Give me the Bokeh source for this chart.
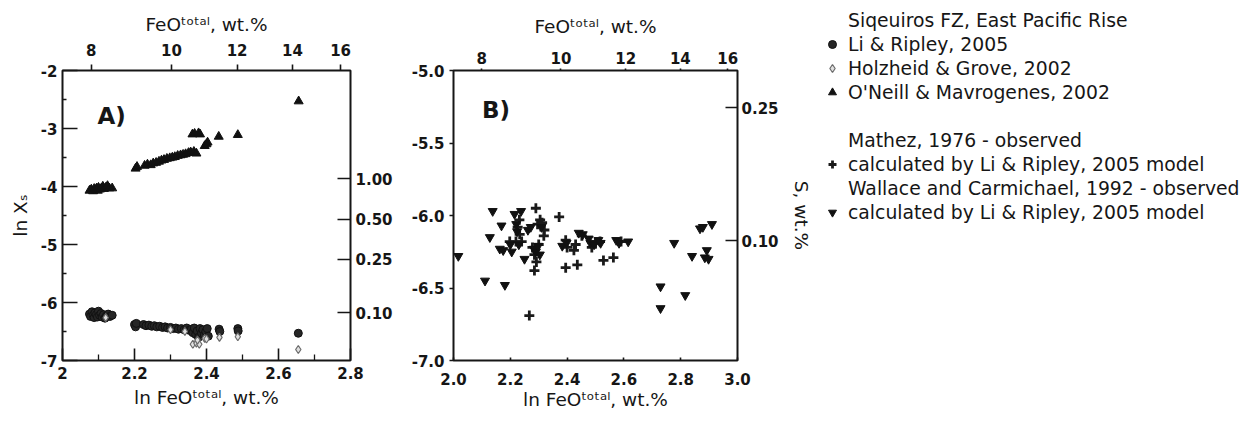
import math
from bokeh.plotting import figure
from bokeh.models import LinearAxis, FixedTicker, Label, Legend, LegendItem, PrintfTickFormatter
from bokeh.layouts import row, column
from bokeh.embed import file_html
from bokeh.resources import INLINE

# ---------------- data ----------------
# Panel A: ln FeO(total) vs ln X_S
a_om_x = [2.075, 2.080, 2.085, 2.088, 2.092, 2.095, 2.098, 2.100, 2.104, 2.108, 2.112, 2.115,
          2.120, 2.125, 2.130, 2.138,
          2.203, 2.207, 2.228, 2.236, 2.245, 2.252, 2.260, 2.268, 2.275, 2.282, 2.290, 2.298,
          2.305, 2.312, 2.320, 2.328, 2.335, 2.342, 2.350, 2.356, 2.365, 2.372, 2.395, 2.400,
          2.403, 2.361, 2.367, 2.378, 2.382, 2.434, 2.487, 2.656]
a_om_y = [-4.07, -4.05, -4.08, -4.04, -4.06, -4.03, -4.07, -4.02, -4.05, -4.03, -4.00, -4.04,
          -4.02, -3.99, -4.03, -4.03,
          -3.69, -3.66, -3.64, -3.62, -3.63, -3.60, -3.59, -3.57, -3.55, -3.54, -3.52, -3.51,
          -3.50, -3.49, -3.47, -3.46, -3.45, -3.44, -3.42, -3.41, -3.40, -3.43, -3.30, -3.27,
          -3.24, -3.10, -3.09, -3.08, -3.10, -3.14, -3.11, -2.53]

a_hg_x = [2.120, 2.300, 2.340, 2.362, 2.372, 2.380, 2.375, 2.395, 2.400, 2.436, 2.487, 2.655]
a_hg_y = [-6.26, -6.47, -6.50, -6.72, -6.70, -6.72, -6.65, -6.62, -6.63, -6.60, -6.59, -6.81]

a_lr_x = [2.075, 2.078, 2.082, 2.085, 2.088, 2.090, 2.094, 2.097, 2.100, 2.103, 2.107, 2.110,
          2.114, 2.118, 2.122, 2.127, 2.132, 2.138,
          2.200, 2.203, 2.205, 2.225, 2.232, 2.240, 2.248, 2.255, 2.262, 2.270, 2.278, 2.285,
          2.292, 2.300, 2.308, 2.315, 2.322, 2.330, 2.338, 2.345, 2.352, 2.358, 2.362, 2.366,
          2.370, 2.374, 2.378, 2.382, 2.386, 2.390, 2.394, 2.398, 2.402, 2.405, 2.435, 2.437,
          2.487, 2.488, 2.655]
a_lr_y = [-6.20, -6.24, -6.16, -6.22, -6.26, -6.18, -6.21, -6.25, -6.15, -6.22, -6.19, -6.25,
          -6.21, -6.27, -6.23, -6.20, -6.24, -6.22,
          -6.38, -6.42, -6.36, -6.38, -6.40, -6.39, -6.41, -6.40, -6.42, -6.41, -6.43, -6.42,
          -6.44, -6.43, -6.45, -6.44, -6.46, -6.45, -6.47, -6.44, -6.48, -6.46, -6.52, -6.44,
          -6.55, -6.49, -6.60, -6.45, -6.53, -6.47, -6.56, -6.50, -6.45, -6.58, -6.46, -6.50,
          -6.45, -6.49, -6.53]

# Panel B: ln FeO(total) vs ln X_S
b_wc_x = [2.017, 2.111, 2.128, 2.138, 2.163, 2.169, 2.175, 2.181, 2.200, 2.205, 2.215, 2.221,
          2.224, 2.230, 2.238, 2.250, 2.262, 2.272, 2.283, 2.290, 2.298, 2.304, 2.310, 2.383,
          2.398, 2.441, 2.455, 2.476, 2.482, 2.495, 2.510, 2.518, 2.573, 2.583, 2.615, 2.729,
          2.729, 2.777, 2.816, 2.840, 2.868, 2.878, 2.885, 2.892, 2.898, 2.910]
b_wc_y = [-6.28, -6.45, -6.15, -5.97, -6.23, -6.07, -6.24, -6.48, -6.20, -6.25, -5.99, -6.06,
          -6.11, -6.20, -5.97, -6.30, -6.10, -6.08, -6.23, -6.25, -6.21, -6.27, -6.08, -6.21,
          -6.19, -6.12, -6.13, -6.16, -6.19, -6.20, -6.17, -6.19, -6.17, -6.19, -6.18, -6.49,
          -6.64, -6.19, -6.55, -6.28, -6.09, -6.08, -6.29, -6.24, -6.30, -6.06]

b_ma_x = [2.267, 2.290, 2.285, 2.292, 2.296, 2.305, 2.312, 2.318, 2.320, 2.372, 2.395, 2.436,
          2.395, 2.400, 2.424, 2.430, 2.487, 2.500, 2.516, 2.528, 2.563, 2.590, 2.452, 2.233,
          2.220, 2.198, 2.240, 2.278, 2.300, 2.285, 2.232, 2.226]
b_ma_y = [-6.69, -5.95, -6.38, -6.32, -6.06, -6.03, -6.05, -6.14, -6.10, -6.01, -6.36, -6.34,
          -6.17, -6.22, -6.24, -6.20, -6.22, -6.19, -6.18, -6.31, -6.29, -6.18, -6.14, -6.13,
          -6.18, -6.18, -6.18, -6.22, -6.20, -6.27, -6.03, -6.08]

# axis tick values
feo_ticks = [8, 10, 12, 14, 16]          # FeO total, wt.%
s_ticks_a = [0.10, 0.25, 0.50, 1.00]      # S, wt.%
s_ticks_b = [0.10, 0.25]
S_OFFSET = -3.87                          # ln X_S = ln S(wt.%) + offset

FONT = "DejaVu Sans"
INK = "#161616"
H = 421
TOPB = 70
BOTB = 61


def style(ax, ticks, minor=(), tin=0, tout=0, min_in=0, min_out=0, standoff=5,
          overrides=None, fmt=None, title=None, title_standoff=8):
    ax.ticker = FixedTicker(ticks=list(ticks), minor_ticks=list(minor))
    ax.major_tick_in = tin
    ax.major_tick_out = tout
    ax.minor_tick_in = min_in
    ax.minor_tick_out = min_out
    ax.major_tick_line_width = 1.6
    ax.minor_tick_line_width = 1.3
    ax.major_tick_line_color = INK
    ax.minor_tick_line_color = INK
    ax.axis_line_color = None
    ax.major_label_text_font = FONT
    ax.major_label_text_font_style = "bold"
    ax.major_label_text_font_size = "15px"
    ax.major_label_text_color = INK
    ax.major_label_standoff = standoff
    if fmt:
        ax.formatter = PrintfTickFormatter(format=fmt)
    if overrides:
        ax.major_label_overrides = overrides
    if title is not None:
        ax.axis_label = title
        ax.axis_label_text_font = FONT
        ax.axis_label_text_font_style = "normal"
        ax.axis_label_text_font_size = "18.5px"
        ax.axis_label_text_color = INK
        ax.axis_label_standoff = title_standoff


def base_fig(width, xr, yr, bl, br):
    p = figure(width=width, height=H, x_range=xr, y_range=yr,
               output_backend="svg", toolbar_location=None,
               min_border_left=bl, min_border_right=br,
               min_border_top=TOPB, min_border_bottom=BOTB)
    p.grid.visible = False
    p.outline_line_color = INK
    p.outline_line_width = 2
    p.background_fill_color = "white"
    return p


TOP_TITLE = "FeOᵗᵒᵗᵃˡ, wt.%"
BOT_TITLE = "ln FeOᵗᵒᵗᵃˡ, wt.%"

# ---------------- panel A ----------------
pA = base_fig(400, (2.0, 2.8), (-7.0, -2.0), 62, 50)
style(pA.xaxis[0], [2.0, 2.2, 2.4, 2.6, 2.8], minor=[2.1, 2.3, 2.5, 2.7],
      tin=12, min_in=6, standoff=6, fmt="%.1f", overrides={2.0: "2"},
      title=BOT_TITLE, title_standoff=5)
style(pA.yaxis[0], [-7, -6, -5, -4, -3, -2], minor=[-6.5, -5.5, -4.5, -3.5, -2.5],
      tin=15, min_in=4, standoff=5, fmt="%d", title="ln Xₛ", title_standoff=7)
topA = LinearAxis()
feo_pos_a = [math.log(v) for v in feo_ticks]
style(topA, feo_pos_a, tout=6, standoff=9,
      overrides={pos: str(v) for pos, v in zip(feo_pos_a, feo_ticks)},
      title=TOP_TITLE, title_standoff=6)
pA.add_layout(topA, "above")
rightA = LinearAxis()
s_pos_a = [math.log(s) + S_OFFSET for s in s_ticks_a]
style(rightA, s_pos_a, tin=13, standoff=5,
      overrides={pos: f"{s:.2f}" for pos, s in zip(s_pos_a, s_ticks_a)})
pA.add_layout(rightA, "right")

pA.scatter(a_lr_x, a_lr_y, marker="circle", size=8, fill_color="#262626",
           line_color="#111111", line_width=1)
pA.scatter(a_hg_x, a_hg_y, marker="diamond", size=8, fill_color="#e0e0e0",
           line_color="#6a6a6a", line_width=1.2)
pA.scatter(a_om_x, a_om_y, marker="triangle", size=9, fill_color="#111111",
           line_color="#111111", line_width=1)
pA.add_layout(Label(x=2.097, y=-2.79, text="A)", text_font=FONT, text_font_style="bold",
                    text_font_size="23px", text_baseline="middle", text_color=INK))

# ---------------- panel B ----------------
pB = base_fig(414, (2.0, 3.0), (-7.0, -5.0), 53, 73)
style(pB.xaxis[0], [2.0, 2.2, 2.4, 2.6, 2.8, 3.0], tin=3, standoff=12, fmt="%.1f",
      title=BOT_TITLE, title_standoff=1)
style(pB.yaxis[0], [-7.0, -6.5, -6.0, -5.5, -5.0], tout=4, standoff=5, fmt="%.1f")
topB = LinearAxis()
# the upper FeO scale of panel B repeats the layout of panel A's upper scale
feo_pos_b = [2.0 + (math.log(v) - 2.0) * 1.25 for v in feo_ticks]
style(topB, feo_pos_b, tout=2, standoff=5,
      overrides={pos: str(v) for pos, v in zip(feo_pos_b, feo_ticks)},
      title=TOP_TITLE, title_standoff=12)
pB.add_layout(topB, "above")
rightB = LinearAxis()
s_pos_b = [math.log(s) + S_OFFSET for s in s_ticks_b]
style(rightB, s_pos_b, tin=12, standoff=4,
      overrides={pos: f"{s:.2f}" for pos, s in zip(s_pos_b, s_ticks_b)},
      title="S, wt.%", title_standoff=9)
pB.add_layout(rightB, "right")

pB.scatter(b_ma_x, b_ma_y, marker="cross", size=10, line_color="#1a1a1a", line_width=2.8)
pB.scatter(b_wc_x, b_wc_y, marker="inverted_triangle", size=9, fill_color="#111111",
           line_color="#111111", line_width=1)
pB.add_layout(Label(x=2.10, y=-5.27, text="B)", text_font=FONT, text_font_style="bold",
                    text_font_size="23px", text_baseline="middle", text_color=INK))

# ---------------- legend ----------------
pC = figure(width=430, height=H, x_range=(0, 1), y_range=(0, 1),
            output_backend="svg", toolbar_location=None,
            x_axis_location=None, y_axis_location=None,
            min_border_left=0, min_border_right=0, min_border_top=0, min_border_bottom=0)
pC.grid.visible = False
pC.outline_line_color = None

# legend swatches (one out-of-view sample of each series)
blank = pC.scatter(a_lr_x[:1], a_lr_y[:1], marker="circle", size=8, fill_alpha=0, line_alpha=0)
g_lr = pC.scatter(a_lr_x[:1], a_lr_y[:1], marker="circle", fill_color="#262626",
                  line_color="#111111")
g_hg = pC.scatter(a_hg_x[:1], a_hg_y[:1], marker="diamond", fill_color="#e0e0e0",
                  line_color="#6a6a6a", line_width=1.2)
g_om = pC.scatter(a_om_x[:1], a_om_y[:1], marker="triangle", fill_color="#111111",
                  line_color="#111111")
g_ma = pC.scatter(b_ma_x[:1], b_ma_y[:1], marker="cross", line_color="#1a1a1a", line_width=2.8)
g_wc = pC.scatter(b_wc_x[:1], b_wc_y[:1], marker="inverted_triangle", fill_color="#111111",
                  line_color="#111111")

legend_labels = [
    ("Siqeuiros FZ, East Pacific Rise", blank),
    ("Li & Ripley, 2005", g_lr),
    ("Holzheid & Grove, 2002", g_hg),
    ("O'Neill & Mavrogenes, 2002", g_om),
    (" ", blank),
    ("Mathez, 1976 - observed", blank),
    ("calculated by Li & Ripley, 2005 model", g_ma),
    ("Wallace and Carmichael, 1992 - observed", blank),
    ("calculated by Li & Ripley, 2005 model", g_wc),
]
ITEM_H = 24
legend_h = ITEM_H * len(legend_labels)
legend = Legend(items=[LegendItem(label=t, renderers=[r]) for t, r in legend_labels],
                location=(8, H - 8 - legend_h), margin=0, padding=0, spacing=0,
                label_height=ITEM_H, glyph_height=ITEM_H, glyph_width=20, label_standoff=6,
                label_text_font=FONT, label_text_font_size="18.8px", label_text_color=INK,
                border_line_color=None, background_fill_alpha=0)
pC.add_layout(legend)

layout = row(pA, pB, column(pC))
open("out.html", "w").write(file_html(layout, INLINE))
